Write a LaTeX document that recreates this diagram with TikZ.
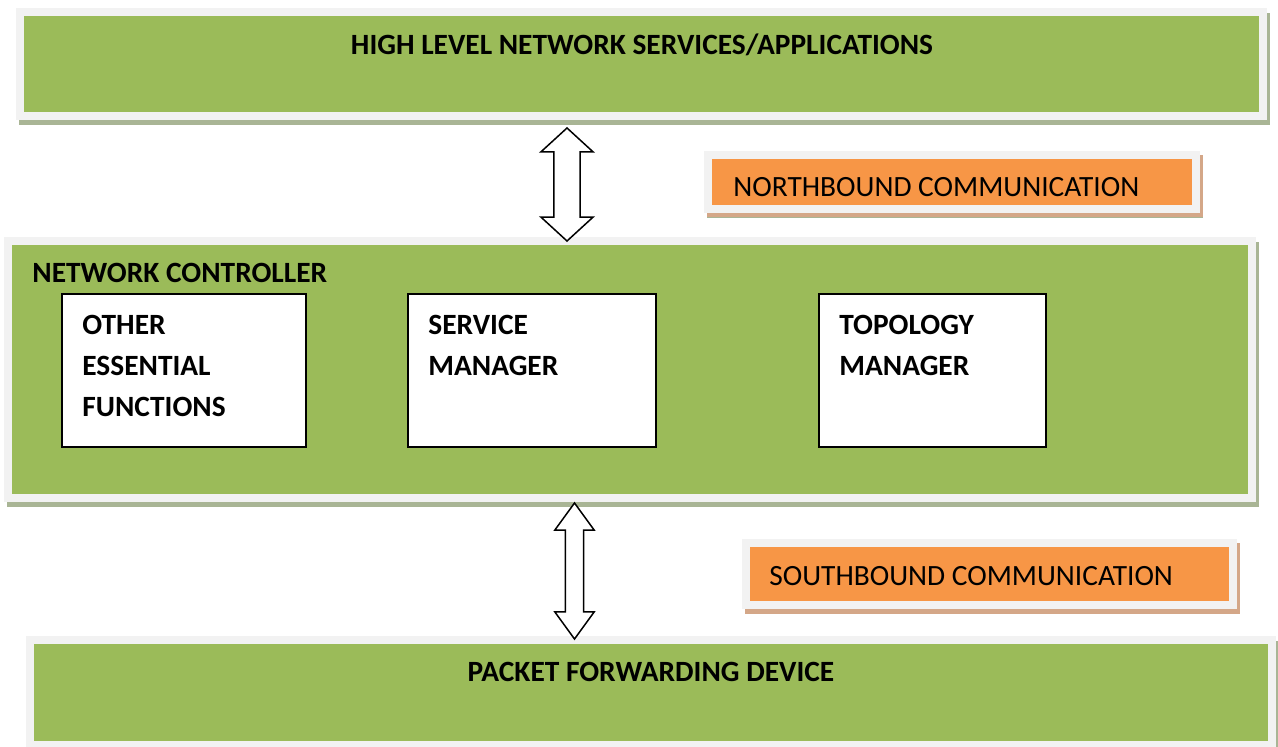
\documentclass[tikz,border=0pt]{standalone}
\usepackage{fontspec}
\setmainfont{Carlito}
\usetikzlibrary{positioning, shapes.arrows}

\definecolor{panelgreen}{HTML}{9BBB59}
\definecolor{shadegreen}{HTML}{A9B595}
\definecolor{framegray}{HTML}{F2F2F2}
\definecolor{tagorange}{HTML}{F79646}
\definecolor{shadeorange}{HTML}{D4A788}

\begin{document}
\begin{tikzpicture}[x=0.5pt,y=-0.5pt,
    panel/.style={fill=panelgreen, draw=framegray, line width=4pt, inner sep=0pt,
      preaction={fill=shadegreen, draw=shadegreen, line width=4pt,
        transform canvas={shift={(1.25pt,-2.5pt)}}}},
    tag/.style={panel, fill=tagorange,
      preaction={fill=shadeorange, draw=shadeorange, line width=4pt,
        transform canvas={shift={(1.5pt,-2.25pt)}}}},
    module/.style={draw=black, line width=1pt, fill=white, inner sep=0pt,
      minimum height=76.5pt},
    heading/.style={font=\fontsize{14.7pt}{17pt}\selectfont\bfseries, inner sep=0pt},
    caption/.style={font=\fontsize{14.7pt}{17pt}\selectfont, inner sep=0pt},
    modtext/.style={font=\fontsize{14.7pt}{20.5pt}\selectfont\bfseries,
      align=left, inner sep=0pt},
    updown/.style={double arrow, draw=black, line width=0.75pt, fill=white,
      inner xsep=0pt, rotate=90}]
  \useasboundingbox (0,0) rectangle (1278,747);

  % the three layers
  \node[panel, minimum width=621.5pt, minimum height=52pt]   (services)   at (641.5,64)  {};
  \node[panel, minimum width=622pt, minimum height=128.5pt]  (controller) at (630,369.5) {};
  \node[panel, minimum width=621pt, minimum height=52.5pt]   (device)     at (651,692.5) {};

  % interface tags
  \node[tag, minimum width=244pt, minimum height=27pt]   (northtag) at (952,182)   {};
  \node[tag, minimum width=243.5pt, minimum height=31pt] (southtag) at (989.5,574) {};

  \node[heading]            (servicestxt)   at (642,45)  {HIGH LEVEL NETWORK SERVICES/APPLICATIONS};
  \node[heading,anchor=west] (controllertxt) at (32,273)  {NETWORK CONTROLLER};
  \node[heading]            (devicetxt)     at (651,672) {PACKET FORWARDING DEVICE};
  \node[caption,anchor=west] (northtxt)      at (733,187) {NORTHBOUND COMMUNICATION};
  \node[caption,anchor=west] (southtxt)      at (769,576) {SOUTHBOUND COMMUNICATION};

  % modules inside the controller
  \node[module, minimum width=122pt]                    (other)    at (184,370.5) {};
  \node[module, minimum width=124pt, right=50pt of other]      (service)  {};
  \node[module, minimum width=113.5pt, right=80.5pt of service] (topology) {};

  \node[modtext, below right=11pt and 10.5pt of other.north west]    (othertxt)    {OTHER\\ESSENTIAL\\FUNCTIONS};
  \node[modtext, below right=11pt and 10.5pt of service.north west]  (servicetxt)  {SERVICE\\MANAGER};
  \node[modtext, below right=11pt and 10.5pt of topology.north west] (topologytxt) {TOPOLOGY\\MANAGER};

  % northbound and southbound links
  \node[updown, minimum height=56.5pt, inner ysep=6.2pt,
        double arrow head extend=6.5pt, double arrow tip angle=95] (northlink) at (567,184.5) {};
  \node[updown, minimum height=68pt, inner ysep=4.2pt,
        double arrow head extend=5.25pt, double arrow tip angle=72] (southlink) at (574.5,571) {};
\end{tikzpicture}
\end{document}
